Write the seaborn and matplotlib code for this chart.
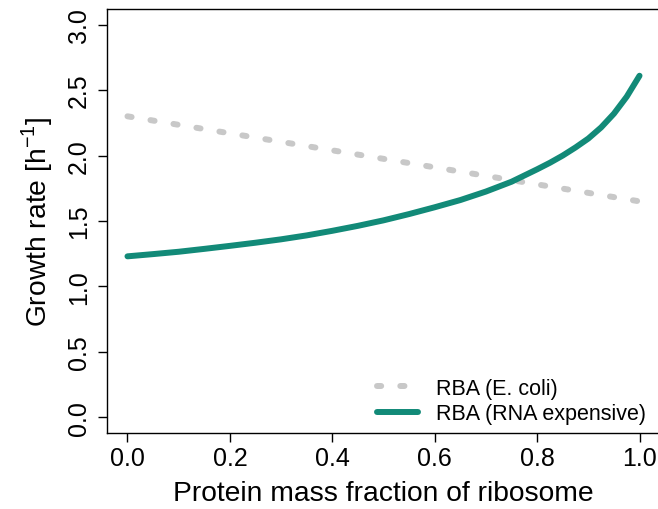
import matplotlib
matplotlib.use("Agg")
import matplotlib.pyplot as plt
import seaborn as sns
import pandas as pd

# Growth rate vs. protein mass fraction of the ribosome
ecoli_x = [0.0, 1.0]
ecoli_y = [2.30, 1.65]

rna_x = [0.0, 0.05, 0.1, 0.15, 0.2, 0.25, 0.3, 0.35, 0.4, 0.45, 0.5, 0.55,
         0.6, 0.65, 0.7, 0.75, 0.8, 0.825, 0.85, 0.875, 0.9, 0.925, 0.95,
         0.975, 1.0]
rna_y = [1.23, 1.247, 1.265, 1.287, 1.31, 1.334, 1.36, 1.39, 1.425, 1.463,
         1.505, 1.553, 1.605, 1.66, 1.725, 1.80, 1.895, 1.945, 2.0, 2.062,
         2.13, 2.215, 2.32, 2.45, 2.61]

series_labels = ["RBA (E. coli)", "RBA (RNA expensive)"]
x_ticks = [0.0, 0.2, 0.4, 0.6, 0.8, 1.0]
y_ticks = [0.0, 0.5, 1.0, 1.5, 2.0, 2.5, 3.0]

sns.set_style("white")
plt.rcParams["font.family"] = ["Liberation Sans", "DejaVu Sans"]
plt.rcParams["mathtext.fontset"] = "custom"
plt.rcParams["mathtext.rm"] = "Liberation Sans"
plt.rcParams["text.color"] = "black"
plt.rcParams["axes.labelcolor"] = "black"

ecoli = pd.DataFrame({"x": ecoli_x, "y": ecoli_y})
rna = pd.DataFrame({"x": rna_x, "y": rna_y})

fig = plt.figure(figsize=(6.58, 5.10), dpi=100)
ax = fig.add_axes([107 / 658, 1 - 434 / 510, 553 / 658, 424 / 510])

grey = "#C8C8C8"
green = "#128A78"
lw = 4.3
dash = (0, (0.7, 3.2))

sns.lineplot(data=ecoli, x="x", y="y", ax=ax, color=grey, lw=lw,
             label=series_labels[0])
sns.lineplot(data=rna, x="x", y="y", ax=ax, color=green, lw=lw,
             label=series_labels[1])
ln_e, ln_r = ax.get_lines()[0], ax.get_lines()[1]
ln_e.set_linestyle(dash)
ln_e.set_dash_capstyle("round")
ln_r.set_solid_capstyle("round")
ln_r.set_solid_joinstyle("round")

ax.set_xlim(-0.04, 1.04)
ax.set_ylim(-0.12, 3.12)
ax.set_xticks(x_ticks)
ax.set_xticklabels([f"{v:.1f}" for v in x_ticks])
ax.set_yticks(y_ticks)
ax.set_yticklabels([f"{v:.1f}" for v in y_ticks], rotation=90, va="center")

for s in ax.spines.values():
    s.set_color("black")
    s.set_linewidth(1.0)

ax.tick_params(axis="both", direction="out", length=6.5, width=1.0,
               color="black", labelsize=18, labelcolor="black",
               bottom=True, left=True, top=False, right=False)
ax.tick_params(axis="x", pad=3)
ax.tick_params(axis="y", pad=5)

ax.set_xlabel("Protein mass fraction of ribosome", fontsize=20.3,
              labelpad=7)
ax.set_ylabel(r"Growth rate [h$^{\mathregular{-1}}$]", fontsize=20.3,
              labelpad=9)

leg = ax.legend(loc="lower right", frameon=False, fontsize=15.5,
                handlelength=1.9, handletextpad=0.85, labelspacing=0.22,
                borderaxespad=0, bbox_to_anchor=(0.99, 0.0))
for h in leg.get_lines():
    h.set_linewidth(lw)
leg.get_lines()[0].set_linestyle(dash)
leg.get_lines()[0].set_dash_capstyle("round")
leg.get_lines()[1].set_solid_capstyle("round")

fig.savefig("out.png", dpi=100)
